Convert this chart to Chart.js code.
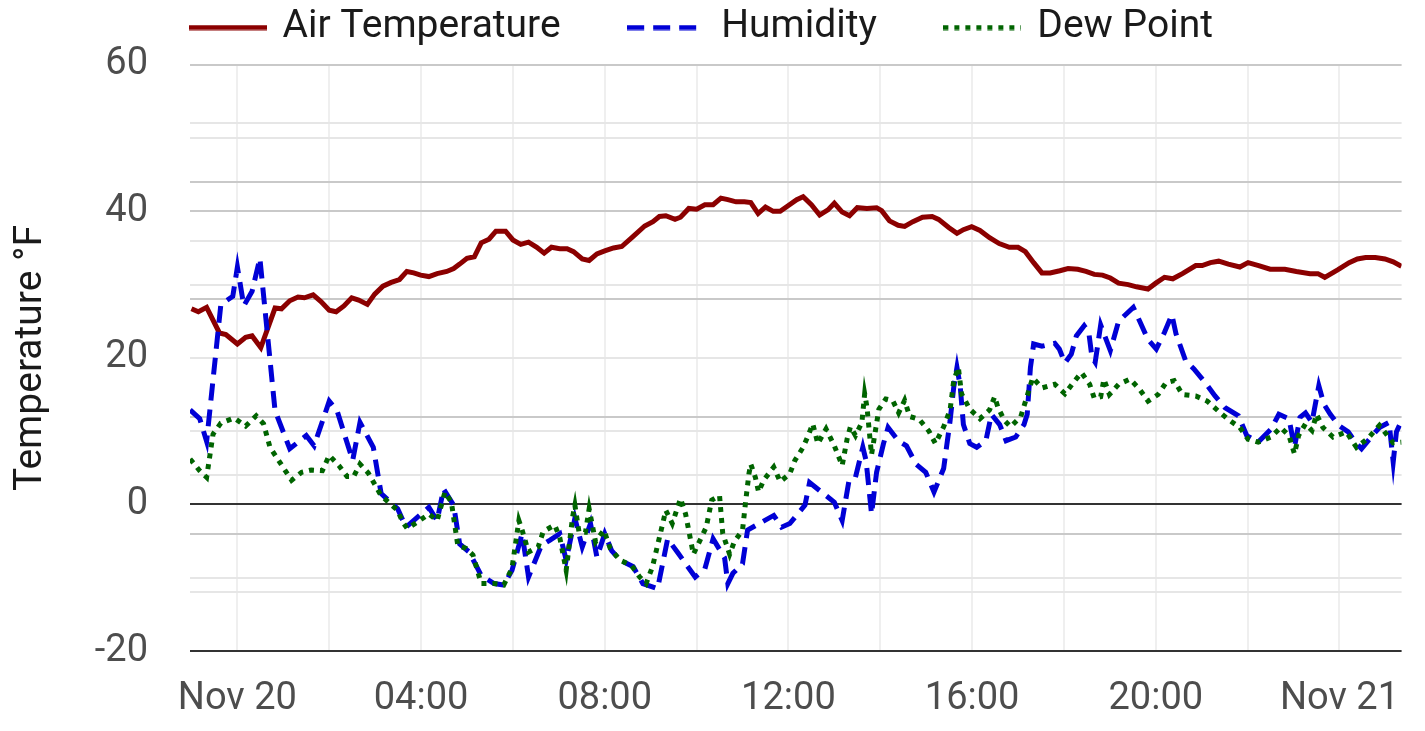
<!DOCTYPE html>
<html><head><meta charset="utf-8">
<script src="https://cdn.jsdelivr.net/npm/chart.js@4.4.1/dist/chart.umd.min.js"></script>
<style>html,body{margin:0;padding:0;background:#fff;overflow:hidden}canvas{display:block}</style>
</head><body>
<canvas id="c" width="1425" height="731"></canvas>
<script>
// ---- data (hours relative to Nov 20 00:00) ----
const seriesNames = ['Air Temperature', 'Humidity', 'Dew Point'];

const airHours = [-1.0,-0.85,-0.67,-0.39,-0.25,0.0,0.18,0.32,0.51,0.82,0.96,1.14,1.32,1.46,1.65,1.82,2.0,2.15,2.32,2.49,2.64,2.83,2.99,3.17,3.35,3.53,3.69,3.84,3.99,4.17,4.35,4.56,4.71,4.84,5.0,5.16,5.31,5.48,5.63,5.84,6.0,6.17,6.34,6.52,6.68,6.84,7.02,7.18,7.32,7.51,7.66,7.83,8.0,8.19,8.37,8.62,8.87,9.05,9.19,9.33,9.53,9.65,9.83,10.0,10.18,10.36,10.53,10.68,10.86,11.04,11.18,11.34,11.5,11.67,11.82,12.0,12.18,12.32,12.5,12.68,12.86,13.0,13.17,13.33,13.5,13.71,13.92,14.03,14.2,14.39,14.53,14.71,14.92,15.13,15.27,15.49,15.67,15.81,15.99,16.17,16.38,16.59,16.81,17.0,17.16,17.34,17.52,17.7,17.91,18.09,18.3,18.48,18.66,18.84,19.01,19.19,19.4,19.58,19.83,20.0,20.19,20.37,20.58,20.87,21.01,21.19,21.37,21.58,21.83,22.01,22.24,22.49,22.81,23.06,23.36,23.53,23.68,23.96,24.21,24.39,24.57,24.78,24.99,25.17,25.35];
const airTemp = [26.7,26.3,26.9,23.4,23.2,21.9,22.8,23.0,21.4,26.8,26.7,27.8,28.3,28.2,28.6,27.7,26.5,26.3,27.1,28.2,27.9,27.3,28.7,29.8,30.3,30.7,31.8,31.6,31.3,31.1,31.5,31.8,32.2,32.8,33.6,33.8,35.7,36.2,37.3,37.3,36.1,35.5,35.8,35.1,34.3,35.1,34.9,34.9,34.5,33.5,33.3,34.2,34.6,35.0,35.2,36.6,38.0,38.6,39.3,39.4,38.9,39.2,40.4,40.3,40.9,40.9,41.8,41.6,41.3,41.3,41.2,39.7,40.6,40.0,40.0,40.8,41.6,42.0,40.9,39.5,40.2,41.1,39.9,39.4,40.5,40.4,40.5,40.1,38.7,38.1,37.95,38.6,39.2,39.3,38.9,37.8,37.0,37.5,37.9,37.4,36.4,35.6,35.1,35.1,34.5,33.0,31.6,31.6,31.9,32.2,32.1,31.8,31.4,31.3,30.9,30.2,30.0,29.7,29.4,30.2,31.0,30.8,31.5,32.6,32.6,33.0,33.2,32.8,32.4,33.0,32.6,32.1,32.1,31.8,31.5,31.5,31.0,32.0,33.0,33.5,33.7,33.7,33.5,33.1,32.5];

const humHours = [-1.03,-0.82,-0.67,-0.36,-0.1,0.0,0.14,0.32,0.49,0.82,1.14,1.5,1.67,2.0,2.17,2.35,2.51,2.67,2.96,3.13,3.49,3.67,4.17,4.35,4.49,4.71,4.84,5.05,5.31,5.59,5.8,5.98,6.2,6.34,6.62,6.8,7.02,7.16,7.35,7.51,7.69,7.83,8.0,8.15,8.33,8.62,8.83,9.15,9.37,9.58,9.97,10.18,10.36,10.61,10.68,10.79,11.0,11.11,11.28,11.68,11.85,12.03,12.36,12.46,12.68,13.0,13.17,13.32,13.46,13.62,13.69,13.81,13.92,14.07,14.17,14.39,14.57,14.78,14.99,15.17,15.38,15.52,15.6,15.67,15.74,15.81,15.95,16.1,16.3,16.42,16.6,16.74,16.95,17.13,17.2,17.27,17.34,17.52,17.8,17.9,18.02,18.16,18.27,18.44,18.54,18.61,18.68,18.8,19.01,19.19,19.51,19.65,19.83,20.01,20.19,20.35,20.44,20.65,20.83,21.08,21.29,21.51,21.8,21.98,22.23,22.51,22.68,22.9,23.02,23.14,23.26,23.4,23.55,23.66,23.8,23.98,24.19,24.37,24.48,24.69,24.87,25.08,25.17,25.24,25.35];
const humidity = [12.9,11.7,8.6,27.3,28.4,32.4,27.1,29.1,33.6,12.8,7.6,9.4,8.0,14.1,12.8,9.2,6.0,11.2,7.8,1.5,-0.6,-3.1,-0.4,-2.2,2.1,-0.1,-5.4,-6.5,-9.7,-10.8,-11.0,-9.0,-4.0,-9.9,-5.6,-4.9,-4.0,-7.6,-1.9,-5.8,-2.6,-7.2,-4.0,-6.3,-7.6,-8.5,-10.8,-11.5,-4.7,-6.5,-9.9,-8.8,-4.7,-7.3,-10.8,-9.4,-8.1,-3.5,-2.9,-1.5,-3.1,-2.6,-0.1,3.0,1.9,0.3,-2.2,3.3,3.7,7.8,6.0,-1.3,4.4,8.3,10.5,8.7,8.0,5.5,4.4,1.7,4.9,11.4,16.0,18.7,16.2,10.9,8.3,7.8,8.7,12.3,10.9,8.7,9.2,10.9,12.3,18.7,21.9,21.6,22.0,21.2,19.3,20.5,23.0,24.4,23.5,20.1,19.4,24.5,21.0,25.0,26.9,25.0,22.5,21.2,23.5,25.9,23.3,19.6,18.5,16.6,14.8,13.2,12.1,9.4,8.5,10.3,12.3,11.7,7.8,11.9,12.5,11.2,16.2,13.7,12.3,10.8,9.9,8.3,7.6,9.2,10.5,11.2,5.8,9.9,11.4];

const dewHours = [-1.03,-0.82,-0.67,-0.53,-0.36,-0.07,0.18,0.41,0.57,0.71,1.18,1.4,1.61,1.85,2.0,2.21,2.39,2.53,2.67,2.85,3.13,3.49,3.6,3.7,3.92,4.17,4.35,4.52,4.66,4.8,4.98,5.13,5.31,5.6,5.8,5.98,6.13,6.2,6.34,6.55,6.66,6.91,7.02,7.16,7.3,7.35,7.44,7.58,7.66,7.8,7.98,8.12,8.33,8.58,8.76,8.9,9.04,9.33,9.47,9.65,9.76,9.93,10.21,10.33,10.5,10.57,10.72,10.82,11.0,11.07,11.14,11.18,11.28,11.35,11.46,11.68,11.82,12.03,12.14,12.32,12.43,12.53,12.64,12.82,13.0,13.17,13.28,13.35,13.46,13.6,13.66,13.71,13.81,13.97,14.12,14.27,14.4,14.53,14.64,14.85,15.06,15.2,15.38,15.52,15.6,15.7,15.77,15.95,16.17,16.38,16.49,16.56,16.7,16.84,17.06,17.32,17.52,17.8,18.02,18.2,18.38,18.56,18.66,18.8,18.87,18.99,19.19,19.44,19.65,19.83,20.05,20.22,20.4,20.58,20.87,21.12,21.37,21.58,21.83,22.01,22.23,22.51,22.72,22.9,23.02,23.11,23.26,23.4,23.5,23.64,23.86,24.15,24.37,24.62,24.87,25.17,25.35];
const dewPoint = [6.2,4.6,3.7,9.6,11.1,11.8,10.7,12.1,11.0,7.8,3.3,4.4,4.7,4.6,6.7,5.3,3.8,3.8,5.5,4.3,1.2,-0.8,-2.4,-3.3,-2.4,-1.3,-2.2,1.7,0.3,-5.6,-6.0,-6.9,-10.8,-10.8,-11.0,-8.7,-2.2,-3.5,-6.5,-5.8,-3.7,-2.8,-4.5,-9.0,-1.7,-0.1,-3.8,-3.8,-0.6,-5.1,-3.5,-6.0,-7.6,-8.3,-9.9,-10.8,-8.5,-0.8,-2.6,0.8,-1.3,-6.8,-3.1,0.6,1.2,-4.0,-6.8,-5.1,-3.5,0.5,4.2,5.5,3.7,1.7,3.3,5.1,3.1,4.2,6.0,7.8,9.4,11.0,8.3,10.3,8.0,5.3,9.0,10.6,9.4,11.2,15.1,13.3,6.8,13.0,14.4,14.2,12.5,14.2,12.0,11.6,10.0,8.3,10.6,12.9,16.9,18.7,15.1,13.0,11.7,12.9,14.7,13.3,11.5,10.6,12.0,17.3,15.9,16.4,15.1,16.6,18.0,16.4,14.5,14.7,17.1,15.0,16.4,17.1,15.7,14.1,15.0,16.6,16.9,15.0,14.8,14.1,12.7,11.6,10.5,8.9,8.5,9.2,10.5,9.4,6.9,9.4,11.0,10.1,12.3,10.5,9.2,9.9,7.8,9.0,10.8,8.4,8.5];

// ---- axes ----
const xRange = [-1.032, 25.353];
const xGridHours = [0,2,4,6,8,10,12,14,16,18,20,22,24];
const xLabelHours = [0,4,8,12,16,20,24];
const xLabelTexts = ['Nov 20','04:00','08:00','12:00','16:00','20:00','Nov 21'];
const yRange = [-20, 60];
const yLabelValues = [60,40,20,0,-20];
const yGridMajor = [60,44,40,28,12,-4];
const yGridMinor = [52,50,36,30,20,10,4,-10,-12];
const yGridDark = [0,-20];
const yAxisTitle = 'Temperature °F';

const toPoints = (xs, ys) => xs.map((x, i) => ({x: x, y: ys[i]}));
const FONT = 'Roboto';

// small line sample used as the legend symbol (keeps dash pattern of the series)
function legendGlyph(color, dash) {
  const cv = document.createElement('canvas');
  cv.width = 78; cv.height = 6;
  const g = cv.getContext('2d');
  g.strokeStyle = color; g.lineWidth = 5; g.setLineDash(dash || []);
  g.beginPath(); g.moveTo(0, 3); g.lineTo(78, 3); g.stroke();
  return cv;
}

// move the legend row up into the band above the plot (its labels padding also sets the item gap)
const legendNudge = {
  id: 'legendNudge',
  afterLayout(chart) {
    const lg = chart.legend;
    if (!lg) return;
    lg.top = 8 - lg.options.labels.padding;
    lg.bottom = chart.chartArea.top;
    lg.left -= 10; lg.right -= 10;
  }
};

new Chart(document.getElementById('c'), {
  type: 'line',
  data: {
    datasets: [
      {label: seriesNames[0], data: toPoints(airHours, airTemp), borderColor: '#8b0000', backgroundColor: '#8b0000', borderWidth: 5, pointRadius: 0, order: 3},
      {label: seriesNames[1], data: toPoints(humHours, humidity), borderColor: '#0000d6', backgroundColor: '#0000d6', borderWidth: 5, borderDash: [17, 9], pointRadius: 0, order: 2},
      {label: seriesNames[2], data: toPoints(dewHours, dewPoint), borderColor: '#006400', backgroundColor: '#006400', borderWidth: 5, borderDash: [5, 6], pointRadius: 0, order: 1}
    ]
  },
  options: {
    responsive: false,
    animation: false,
    layout: {padding: 0},
    plugins: {
      tooltip: {enabled: false},
      legend: {
        position: 'top',
        maxHeight: 62,
        labels: {
          usePointStyle: true,
          pointStyleWidth: 71,
          padding: 70,
          color: '#1a1a1a',
          font: {family: FONT, size: 39},
          sort: (a, b) => a.datasetIndex - b.datasetIndex,
          generateLabels: chart => Chart.defaults.plugins.legend.labels.generateLabels(chart).map(it => {
            const ds = chart.data.datasets[it.datasetIndex];
            it.pointStyle = legendGlyph(ds.borderColor, ds.datasetIndex === 1 ? [15, 7] : ds.borderDash);
            return it;
          })
        }
      }
    },
    scales: {
      x: {
        type: 'linear',
        min: xRange[0], max: xRange[1],
        afterBuildTicks: s => { s.ticks = xGridHours.map(v => ({value: v})); },
        afterFit: s => { s.height = 80; },
        border: {display: false},
        grid: {drawTicks: false, color: '#efefef', lineWidth: 2},
        ticks: {
          autoSkip: false, maxRotation: 0, padding: 26,
          color: '#4d4d4d', font: {family: FONT, size: 38},
          callback: v => { const i = xLabelHours.indexOf(v); return i >= 0 ? xLabelTexts[i] : ''; }
        }
      },
      y: {
        min: yRange[0], max: yRange[1],
        afterBuildTicks: s => { s.ticks = yGridMajor.concat(yGridMinor, yGridDark, [40, 20, 60]).filter((v, i, a) => a.indexOf(v) === i).sort((a, b) => a - b).map(v => ({value: v})); },
        afterFit: s => { s.width = 190; },
        border: {display: false},
        grid: {
          drawTicks: false,
          color: c => { const v = c.tick && c.tick.value; if (yGridDark.includes(v)) return '#333333'; if (yGridMajor.includes(v)) return '#c9c9c9'; return '#e6e6e6'; },
          lineWidth: 2
        },
        ticks: {
          autoSkip: false, padding: 42,
          color: '#4d4d4d', font: {family: FONT, size: 38},
          callback: v => yLabelValues.includes(v) ? String(v) : ''
        },
        title: {display: true, text: yAxisTitle, color: '#1a1a1a', font: {family: FONT, size: 39}, padding: 8}
      }
    }
  },
  plugins: [legendNudge]
});
</script>
</body></html>
